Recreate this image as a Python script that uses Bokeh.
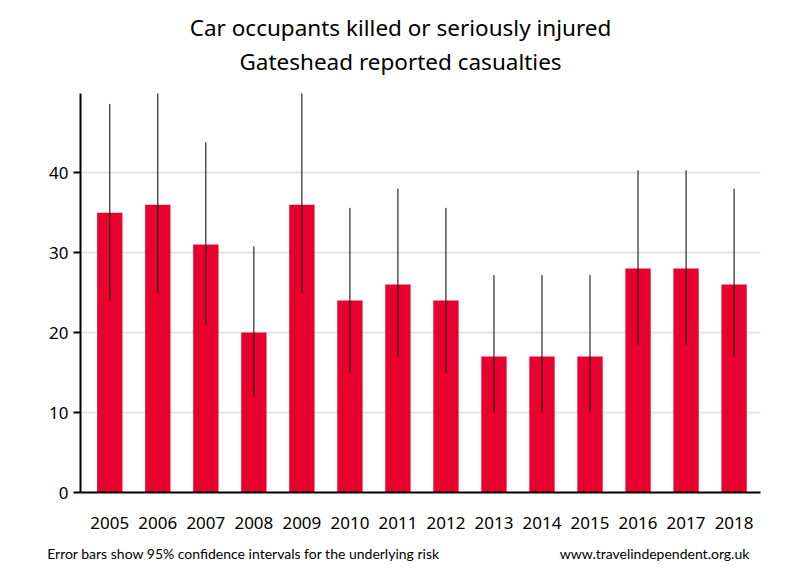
from bokeh.plotting import figure
from bokeh.models import FixedTicker, Range1d, LinearAxis
from bokeh.embed import file_html
from bokeh.resources import INLINE

years = [2005, 2006, 2007, 2008, 2009, 2010, 2011, 2012, 2013, 2014, 2015, 2016, 2017, 2018]
casualties = [35, 36, 31, 20, 36, 24, 26, 24, 17, 17, 17, 28, 28, 26]
ci_low = [24, 25, 21, 12, 25, 15, 17, 15, 10, 10, 10, 18.5, 18.5, 17]
ci_high = [48.6, 50.5, 43.8, 30.8, 50.5, 35.6, 38, 35.6, 27.2, 27.2, 27.2, 40.3, 40.3, 38]
y_ticks = [0, 10, 20, 30, 40]

title1 = "Car occupants killed or seriously injured"
title2 = "Gateshead reported casualties"
note_left = "Error bars show 95% confidence intervals for the underlying risk"
note_right = "www.travelindependent.org.uk"

FONT = "Noto Sans"
FOOT = "Lato"

p = figure(width=792, height=572, output_backend="svg", toolbar_location=None,
           x_range=Range1d(2004.39, 2018.55), y_range=Range1d(0, 49.9),
           min_border_left=80, min_border_right=32, min_border_top=93, min_border_bottom=80)
p.outline_line_color = None
p.background_fill_color = "white"
p.border_fill_color = "white"

p.vbar(x=years, top=casualties, width=0.527, color="#E8002F", line_color=None)
p.segment(x0=years, y0=ci_low, x1=years, y1=ci_high, line_color="black", line_width=1)

p.xaxis.ticker = FixedTicker(ticks=years)
p.xaxis.major_tick_line_color = None
p.xaxis.minor_tick_line_color = None
p.xaxis.axis_line_width = 2
p.xaxis.axis_line_color = "black"
p.xaxis.major_label_text_font = FONT
p.xaxis.major_label_text_font_size = "17px"
p.xaxis.major_label_text_color = "black"
p.xaxis.major_label_standoff = 18

p.yaxis.ticker = FixedTicker(ticks=y_ticks)
p.yaxis.minor_tick_line_color = None
p.yaxis.major_tick_in = 0
p.yaxis.major_tick_out = 7
p.yaxis.major_tick_line_width = 2
p.yaxis.axis_line_width = 2
p.yaxis.axis_line_color = "black"
p.yaxis.major_label_text_font = FONT
p.yaxis.major_label_text_font_size = "17px"
p.yaxis.major_label_text_color = "black"
p.yaxis.major_label_standoff = 5

p.xgrid.grid_line_color = None
p.ygrid.ticker = FixedTicker(ticks=y_ticks)
p.ygrid.grid_line_color = "#e6e6e6"
p.ygrid.grid_line_width = 2


def text_axis(positions, texts, font, size, standoff):
    """A line-less, tick-less axis used only to place text outside the frame."""
    return LinearAxis(ticker=FixedTicker(ticks=positions),
                      major_label_overrides=dict(zip(positions, texts)),
                      axis_line_color=None, major_tick_line_color=None,
                      minor_tick_line_color=None, major_tick_in=0, major_tick_out=0,
                      minor_tick_in=0, minor_tick_out=0,
                      major_label_text_font=font, major_label_text_font_size=size,
                      major_label_text_color="black", major_label_standoff=standoff)


# footer line below the year labels
foot_pos = [2007.785, 2016.343]
p.add_layout(text_axis(foot_pos, [note_left, note_right], FOOT, "14px", 13), "below")

# two title lines above the frame (nearest first)
title_pos = [2011.054]
p.add_layout(text_axis(title_pos, [title2], FONT, "22.5px", 17), "above")
p.add_layout(text_axis(title_pos, [title1], FONT, "22.5px", 0), "above")

open("out.html", "w").write(file_html(p, INLINE))
